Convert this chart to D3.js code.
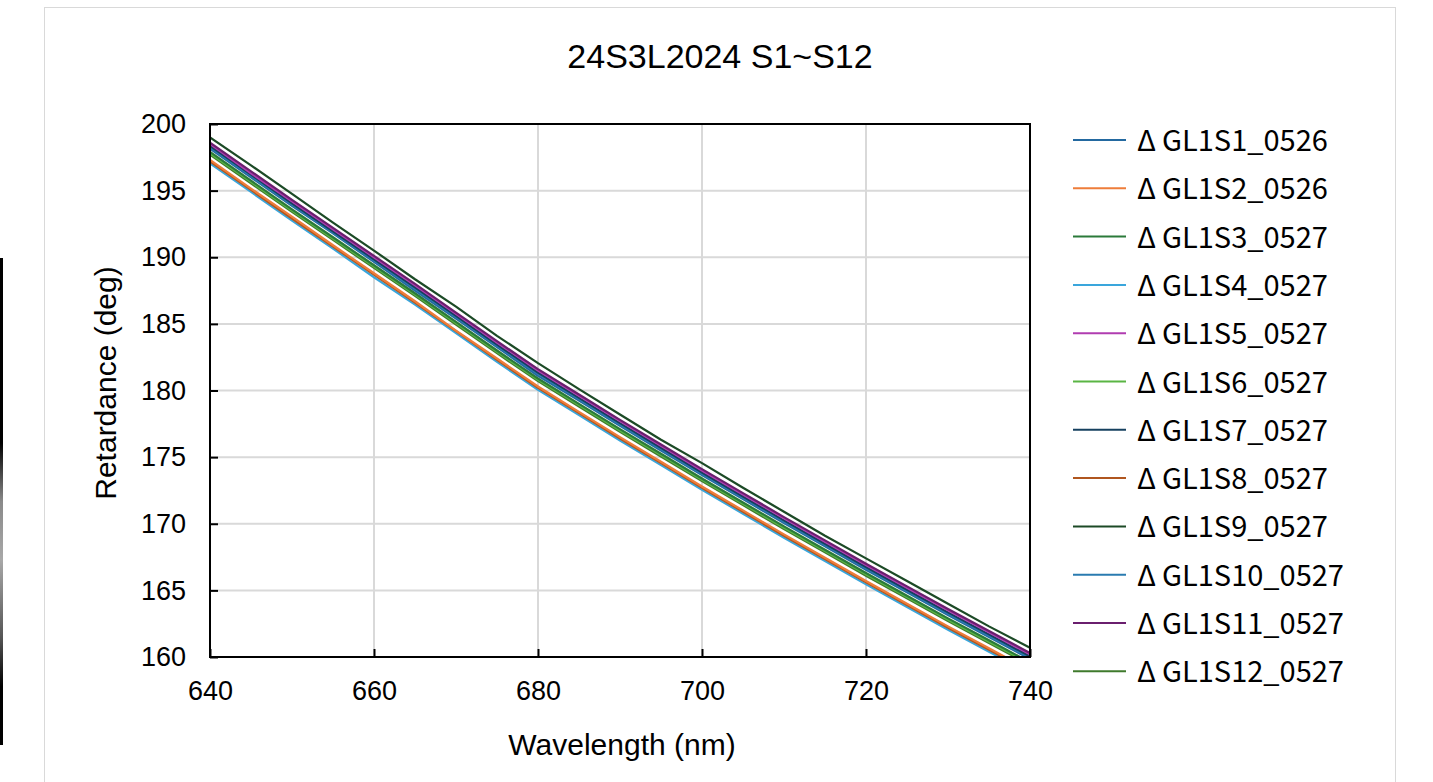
<!DOCTYPE html>
<html>
<head>
<meta charset="utf-8">
<script src="https://cdn.jsdelivr.net/npm/d3@7"></script>
<style>
  body { margin: 0; background: #fff; }
  svg { display: block; }
</style>
</head>
<body>
<div id="chart"></div>
<script>
// wavelength grid (nm)
const wavelengths = d3.range(640, 741, 5);

// series names & values (deg)
const seriesNames = [
  "ΔGL1S1_0526", "ΔGL1S2_0526", "ΔGL1S3_0527", "ΔGL1S4_0527",
  "ΔGL1S5_0527", "ΔGL1S6_0527", "ΔGL1S7_0527", "ΔGL1S8_0527",
  "ΔGL1S9_0527", "ΔGL1S10_0527", "ΔGL1S11_0527", "ΔGL1S12_0527"
];
const seriesColors = [
  "#2369a0", "#ee7d3a", "#2b7a3a", "#3aa6dc",
  "#b03cb0", "#5ab544", "#16405f", "#b0561f",
  "#1c4a26", "#2a7bb0", "#6a1f6e", "#3f7a2c"
];

const s1  = [198.15,196.0,193.85,191.8,189.65,187.5,185.4,183.25,181.1,179.25,177.35,175.5,173.65,171.85,170.05,168.3,166.55,164.85,163.15,161.5,159.85];
const s2  = [197.3,195.15,193.05,190.9,188.8,186.7,184.5,182.4,180.3,178.4,176.5,174.65,172.8,171.0,169.2,167.45,165.7,164.0,162.3,160.65,159.0];
const s3  = [197.9,195.75,193.6,191.5,189.4,187.3,185.15,183.0,180.9,179.0,177.1,175.25,173.4,171.6,169.8,168.05,166.3,164.6,162.9,161.25,159.6];
const s4  = [197.05,194.9,192.75,190.65,188.5,186.45,184.3,182.15,180.05,178.15,176.25,174.4,172.55,170.75,168.95,167.2,165.45,163.75,162.05,160.4,158.75];
const s5  = [198.5,196.3,194.2,192.1,190.0,187.9,185.75,183.6,181.5,179.6,177.7,175.85,174.0,172.2,170.4,168.65,166.9,165.2,163.5,161.85,160.2];
const s6  = [197.8,195.65,193.5,191.4,189.3,187.2,185.05,182.9,180.8,178.9,177.0,175.15,173.3,171.5,169.7,167.95,166.2,164.5,162.8,161.15,159.5];
const s7  = [198.35,196.2,194.05,191.95,189.85,187.75,185.6,183.45,181.35,179.45,177.55,175.7,173.85,172.05,170.25,168.5,166.75,165.05,163.35,161.7,160.05];
const s8  = [197.2,195.05,192.9,190.8,188.7,186.6,184.45,182.3,180.2,178.3,176.4,174.55,172.7,170.9,169.1,167.35,165.6,163.9,162.2,160.55,158.9];
const s9  = [199.0,196.9,194.75,192.6,190.5,188.35,186.3,184.1,182.05,180.1,178.2,176.3,174.55,172.7,170.9,169.1,167.4,165.7,164.0,162.3,160.7];
const s10 = [198.25,196.1,193.95,191.85,189.75,187.65,185.5,183.35,181.25,179.35,177.45,175.6,173.75,171.95,170.15,168.4,166.65,164.95,163.25,161.6,159.95];
const s11 = [198.6,196.45,194.3,192.2,190.1,188.0,185.85,183.7,181.6,179.7,177.8,175.95,174.1,172.3,170.5,168.75,167.0,165.3,163.6,161.95,160.3];
const s12 = [197.7,195.55,193.4,191.3,189.2,187.1,184.95,182.8,180.7,178.8,176.9,175.05,173.2,171.4,169.6,167.85,166.1,164.4,162.7,161.05,159.4];
const seriesValues = [s1, s2, s3, s4, s5, s6, s7, s8, s9, s10, s11, s12];

const xTicks = [640, 660, 680, 700, 720, 740];
const yTicks = [160, 165, 170, 175, 180, 185, 190, 195, 200];

const W = 1433, H = 782;
const plot = { left: 210, right: 1030, top: 124, bottom: 657 };
const FONT = "Liberation Sans, Arial, sans-serif";

const svg = d3.select("#chart").append("svg")
  .attr("width", W).attr("height", H);

// black strip on far left (part of the screenshot)
const grad = svg.append("defs").append("linearGradient")
  .attr("id", "strip").attr("x1", 0).attr("x2", 0).attr("y1", 0).attr("y2", 1);
[[0, "#000"], [0.38, "#000"], [0.5, "#8a8a8a"], [0.62, "#a8a8a8"], [0.78, "#555"], [0.88, "#000"], [1, "#000"]]
  .forEach(([o, c]) => grad.append("stop").attr("offset", o).attr("stop-color", c));
svg.append("rect").attr("x", 0).attr("y", 258).attr("width", 3).attr("height", 487)
  .attr("fill", "url(#strip)");

// chart area border
svg.append("rect")
  .attr("x", 44.5).attr("y", 7.5).attr("width", 1351).attr("height", 800)
  .attr("fill", "#fff").attr("stroke", "#d9d9d9").attr("stroke-width", 1);

const x = d3.scaleLinear().domain([640, 740]).range([plot.left, plot.right]);
const y = d3.scaleLinear().domain([160, 200]).range([plot.bottom, plot.top]);

// gridlines
svg.append("g").selectAll("line").data(yTicks.slice(1, -1)).join("line")
  .attr("x1", plot.left).attr("x2", plot.right)
  .attr("y1", d => y(d)).attr("y2", d => y(d))
  .attr("stroke", "#d9d9d9").attr("stroke-width", 2);
svg.append("g").selectAll("line").data(xTicks.slice(1, -1)).join("line")
  .attr("y1", plot.top).attr("y2", plot.bottom)
  .attr("x1", d => x(d)).attr("x2", d => x(d))
  .attr("stroke", "#d9d9d9").attr("stroke-width", 2);

// series lines
svg.append("clipPath").attr("id", "plotclip").append("rect")
  .attr("x", plot.left).attr("y", plot.top)
  .attr("width", plot.right - plot.left).attr("height", plot.bottom - plot.top);

const line = d3.line().x((d, i) => x(wavelengths[i])).y(d => y(d));
const drawOrder = [3, 7, 1, 11, 5, 2, 0, 9, 6, 4, 10, 8];
svg.append("g").attr("clip-path", "url(#plotclip)")
  .selectAll("path").data(drawOrder).join("path")
  .attr("d", i => line(seriesValues[i]))
  .attr("fill", "none")
  .attr("stroke", i => seriesColors[i])
  .attr("stroke-width", 2.2)
  .attr("stroke-linejoin", "round");

// axes with inward ticks
const xAxis = svg.append("g").attr("transform", `translate(0,${plot.bottom})`)
  .call(d3.axisBottom(x).tickValues(xTicks).tickSize(-8).tickPadding(24));
const yAxis = svg.append("g").attr("transform", `translate(${plot.left},0)`)
  .call(d3.axisLeft(y).tickValues(yTicks).tickSize(-8).tickPadding(24));
[xAxis, yAxis].forEach(g => {
  g.select(".domain").remove();
  g.selectAll(".tick line").attr("stroke", "#000").attr("stroke-width", 2);
  g.selectAll(".tick text")
    .attr("font-family", FONT)
    .attr("font-size", 27).attr("fill", "#000");
});
xAxis.selectAll(".tick text").attr("dy", "0.71em");

// plot border
svg.append("rect")
  .attr("x", plot.left).attr("y", plot.top)
  .attr("width", plot.right - plot.left).attr("height", plot.bottom - plot.top)
  .attr("fill", "none").attr("stroke", "#000").attr("stroke-width", 2);

// titles
svg.append("text").attr("x", 720).attr("y", 68).attr("text-anchor", "middle")
  .attr("font-family", FONT).attr("font-size", 34)
  .text("24S3L2024 S1~S12");
svg.append("text").attr("x", 622).attr("y", 755).attr("text-anchor", "middle")
  .attr("font-family", FONT).attr("font-size", 30)
  .text("Wavelength (nm)");
svg.append("text").attr("transform", `translate(116,383) rotate(-90)`)
  .attr("text-anchor", "middle")
  .attr("font-family", FONT).attr("font-size", 30)
  .text("Retardance (deg)");

// legend
const legend = svg.append("g").attr("transform", "translate(1073,140)");
const item = legend.selectAll("g").data(seriesNames).join("g")
  .attr("transform", (d, i) => `translate(0,${i * 48.3})`);
item.append("line").attr("x1", 0).attr("x2", 53).attr("y1", 0).attr("y2", 0)
  .attr("stroke", (d, i) => seriesColors[i]).attr("stroke-width", 2);
const label = item.append("text").attr("x", 64).attr("y", 11)
  .attr("font-family", "Noto Sans CJK JP, sans-serif").attr("font-size", 29)
  .attr("fill", "#000");
label.append("tspan").text(d => d.slice(0, 1));
label.append("tspan").attr("dx", 6).text(d => d.slice(1));
</script>
</body>
</html>
